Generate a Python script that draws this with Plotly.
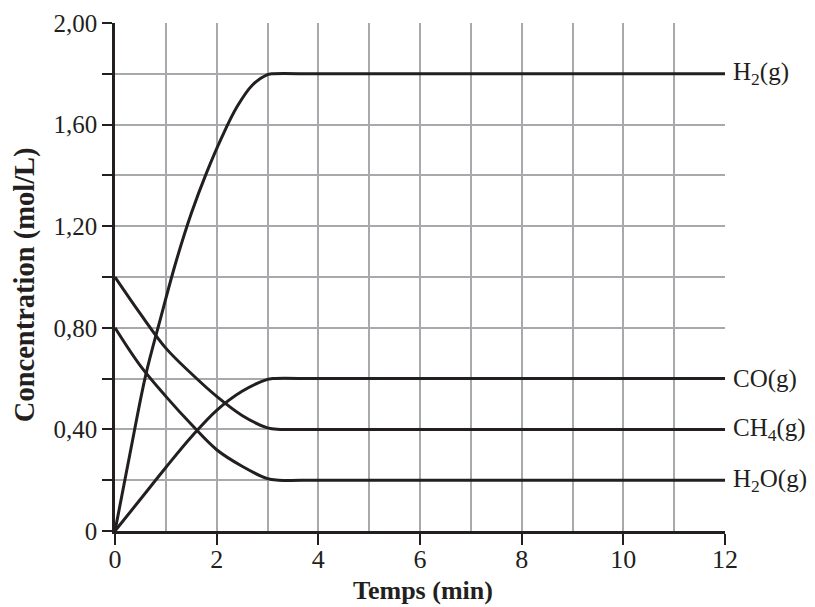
import plotly.graph_objects as go

# Data (time in min, concentration in mol/L)
t_h2 = [0, 0.3, 0.6, 0.9, 1.2, 1.5, 1.8, 2.1, 2.4, 2.7, 3.0, 3.08, 4, 6, 8, 10, 12]
c_h2 = [0, 0.31, 0.61, 0.84, 1.06, 1.25, 1.41, 1.55, 1.67, 1.755, 1.797, 1.80, 1.80, 1.80, 1.80, 1.80, 1.80]

t_co = [0, 0.5, 1.0, 1.5, 2.0, 2.5, 3.0, 3.1, 4, 6, 8, 10, 12]
c_co = [0, 0.125, 0.25, 0.37, 0.475, 0.55, 0.597, 0.60, 0.60, 0.60, 0.60, 0.60, 0.60]

t_ch4 = [0, 0.5, 1.0, 1.5, 2.0, 2.5, 3.0, 3.25, 4, 6, 8, 10, 12]
c_ch4 = [1.00, 0.855, 0.72, 0.62, 0.53, 0.455, 0.406, 0.40, 0.40, 0.40, 0.40, 0.40, 0.40]

t_h2o = [0, 0.5, 1.0, 1.5, 2.0, 2.5, 3.0, 3.22, 4, 6, 8, 10, 12]
c_h2o = [0.80, 0.65, 0.53, 0.42, 0.32, 0.255, 0.206, 0.20, 0.20, 0.20, 0.20, 0.20, 0.20]

series_labels = ["H<sub>2</sub>(g)", "CO(g)", "CH<sub>4</sub>(g)", "H<sub>2</sub>O(g)"]

x_ticks = [0, 2, 4, 6, 8, 10, 12]
y_tickvals = [0, 0.4, 0.8, 1.2, 1.6, 2.0]
y_ticktext = ["0", "0,40", "0,80", "1,20", "1,60", "2,00"]

x_title = "Temps (min)"
y_title = "Concentration (mol/L)"

FONT = "Liberation Serif, Times New Roman, serif"
INK = "#231f20"
GRID = "#a7a9ac"

fig = go.Figure()
series = [(t_h2, c_h2), (t_co, c_co), (t_ch4, c_ch4), (t_h2o, c_h2o)]
for (tx, cy), lab in zip(series, series_labels):
    fig.add_trace(go.Scatter(x=tx, y=cy, mode="lines",
                             line=dict(color=INK, width=3, shape="spline", smoothing=1.0),
                             showlegend=False, hoverinfo="skip"))
    fig.add_annotation(x=tx[-1], y=cy[-1], text=lab, showarrow=False,
                       xanchor="left", yanchor="middle", xshift=6,
                       font=dict(family=FONT, size=25, color=INK))

# axis titles
fig.add_annotation(xref="paper", yref="paper", x=0.505, y=0, yshift=-59,
                   xanchor="center", yanchor="middle", showarrow=False,
                   text="<b>" + x_title + "</b>",
                   font=dict(family=FONT, size=26, color=INK))
fig.add_annotation(xref="paper", yref="paper", x=0, y=0.484, xshift=-90,
                   xanchor="center", yanchor="middle", showarrow=False, textangle=-90,
                   text="<b>" + y_title + "</b>",
                   font=dict(family=FONT, size=28.5, color=INK))

# the page body has an 8px margin, so the figure is sized to fit inside the window
fig.update_layout(
    width=807, height=599,
    margin=dict(l=107, r=90, t=15, b=76),
    paper_bgcolor="white", plot_bgcolor="white",
    font=dict(family=FONT, color=INK),
)
fig.update_xaxes(
    range=[0, 12], tickvals=x_ticks, ticktext=[str(v) for v in x_ticks],
    automargin=False,
    showgrid=True, gridcolor=GRID, gridwidth=1.5,
    minor=dict(dtick=1, tick0=0, showgrid=True, gridcolor=GRID, gridwidth=1.5, ticks=""),
    showline=True, linecolor=INK, linewidth=2.5,
    ticks="outside", ticklen=11, tickwidth=2, tickcolor=INK,
    tickfont=dict(family=FONT, size=26, color=INK),
    ticklabelstandoff=-8,
    zeroline=False,
)
fig.update_yaxes(
    range=[0, 2.0], tickvals=y_tickvals, ticktext=y_ticktext,
    automargin=False,
    showgrid=True, gridcolor=GRID, gridwidth=1.5,
    minor=dict(dtick=0.2, tick0=0, showgrid=True, gridcolor=GRID, gridwidth=1.5,
               ticks="outside", ticklen=10, tickwidth=2, tickcolor=INK),
    showline=True, linecolor=INK, linewidth=2.5,
    ticks="outside", ticklen=10, tickwidth=2, tickcolor=INK,
    tickfont=dict(family=FONT, size=25, color=INK),
    zeroline=False,
)

fig.write_html("out.html")
